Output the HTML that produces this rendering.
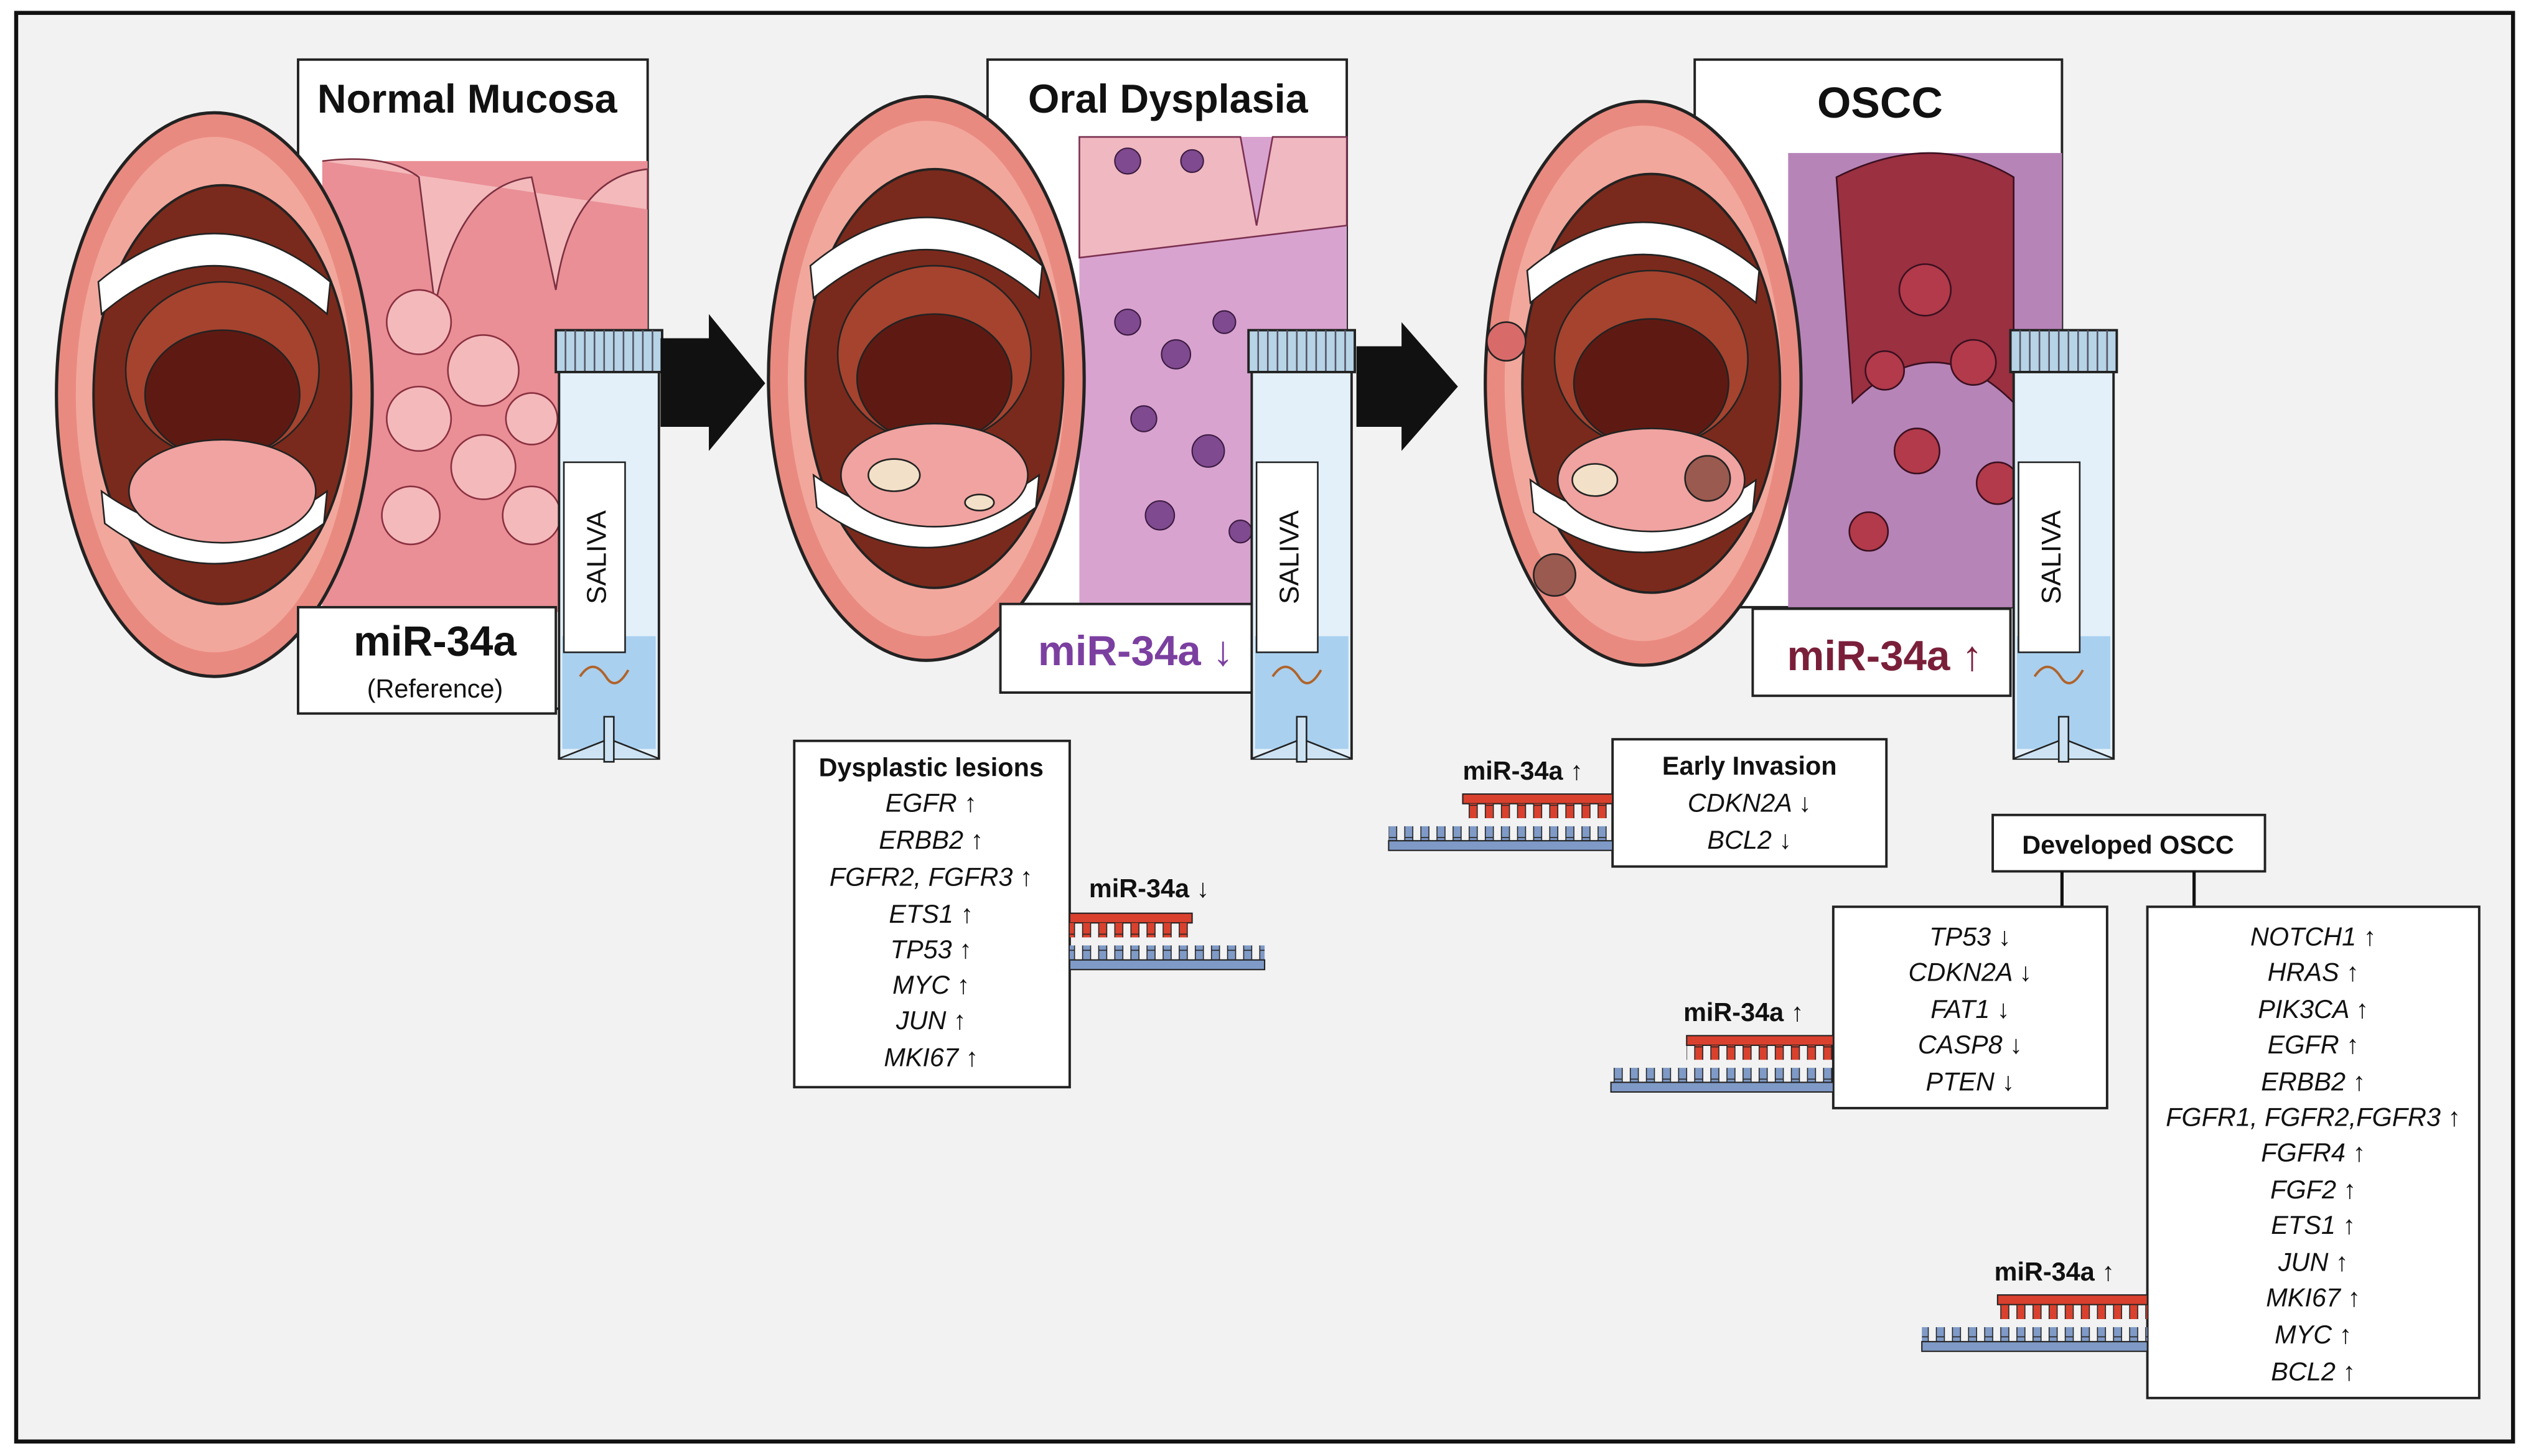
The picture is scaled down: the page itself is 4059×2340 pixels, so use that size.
<!DOCTYPE html>
<html><head><meta charset="utf-8"><style>
html,body{margin:0;padding:0;background:#fff}
svg{display:block}
text{font-family:"Liberation Sans","DejaVu Sans",sans-serif}
</style></head><body>
<svg width="4059" height="2340" viewBox="0 0 1568 904" xmlns="http://www.w3.org/2000/svg">
<defs>
<pattern id="rt" x="0" y="0" width="10" height="10" patternUnits="userSpaceOnUse"><rect x="2" y="0" width="5" height="10" fill="#d9412e" stroke="#222" stroke-width="0.6"/></pattern>
<pattern id="bt" x="0" y="0" width="10" height="10" patternUnits="userSpaceOnUse"><rect x="2" y="0" width="5" height="10" fill="#7f9ac6" stroke="#222" stroke-width="0.6"/></pattern>
<g id="mouth">
<ellipse cx="0" cy="0" rx="98" ry="175" fill="#e98a80" stroke="#222" stroke-width="2"/>
<ellipse cx="0" cy="0" rx="86" ry="160" fill="#f2a79c"/>
<ellipse cx="5" cy="0" rx="80" ry="130" fill="#7a2a1c" stroke="#222" stroke-width="1.5"/>
<path d="M-72,-70 Q0,-130 72,-70 L70,-50 Q0,-110 -70,-50 Z" fill="#fff" stroke="#222"/>
<path d="M-68,80 Q0,130 68,80 L70,60 Q0,110 -70,60 Z" fill="#fff" stroke="#222"/>
<ellipse cx="5" cy="-15" rx="60" ry="55" fill="#a5432f" stroke="#222"/>
<ellipse cx="5" cy="0" rx="48" ry="40" fill="#5e1a12" stroke="#222"/>
<ellipse cx="5" cy="60" rx="58" ry="32" fill="#f0a3a0" stroke="#222"/>
</g>
<g id="tube">
<rect x="0" y="0" width="66" height="26" fill="#b7d3e6" stroke="#222" stroke-width="1.5"/>
<path d="M6,0V26M12,0V26M18,0V26M24,0V26M30,0V26M36,0V26M42,0V26M48,0V26M54,0V26M60,0V26" stroke="#556" stroke-width="1"/>
<rect x="2" y="26" width="62" height="240" fill="#e3f0f9" stroke="#222" stroke-width="1.5"/>
<rect x="4" y="190" width="58" height="70" fill="#a9d0ef"/>
<path d="M2,266 L30,255 L36,255 L64,266" fill="#cde3f3" stroke="#222"/>
<rect x="30" y="240" width="6" height="28" fill="#cde3f3" stroke="#222"/>
<path d="M15,215 q8,-12 16,0 q6,10 14,-4" fill="none" stroke="#b0632a" stroke-width="1.5"/>
</g>
</defs>
<rect width="1568" height="904" fill="#fff"/>
<rect x="10" y="8" width="1550" height="887" fill="#f2f2f2" stroke="#111" stroke-width="2.5"/>

<!-- Panel 1 -->
<rect x="185" y="37" width="217" height="403" fill="#fff" stroke="#222" stroke-width="1.5"/>
<rect x="200" y="100" width="202" height="280" fill="#e98f95"/>
<path d="M200,100 Q240,95 260,110 L270,190 Q285,115 330,110 L345,180 Q355,110 402,105 L402,130" fill="#f4b9bb" stroke="#7a3040"/>
<g fill="#f4b9bb" stroke="#8a3040" stroke-width="1"><circle cx="260" cy="200" r="20"/><circle cx="300" cy="230" r="22"/><circle cx="260" cy="260" r="20"/><circle cx="300" cy="290" r="20"/><circle cx="330" cy="320" r="18"/><circle cx="255" cy="320" r="18"/><circle cx="330" cy="260" r="16"/></g>
<text x="290" y="70" text-anchor="middle" font-size="25" font-weight="bold" fill="#111">Normal Mucosa</text>
<use href="#mouth" x="133" y="245"/>
<rect x="185" y="377" width="160" height="66" fill="#fff" stroke="#222" stroke-width="1.5"/>
<text x="270" y="407" text-anchor="middle" font-size="26" font-weight="bold" fill="#111">miR-34a</text>
<text x="270" y="433" text-anchor="middle" font-size="16" fill="#111">(Reference)</text>
<use href="#tube" x="345" y="205"/>
<rect x="350" y="287" width="38" height="118" fill="#fff" stroke="#222"/>
<text transform="translate(376,346) rotate(-90)" text-anchor="middle" font-size="17" fill="#111">SALIVA</text>
<polygon points="410,210 440,210 440,195 475,238 440,280 440,265 410,265" fill="#111"/>

<!-- Panel 2 -->
<rect x="613" y="37" width="223" height="338" fill="#fff" stroke="#222" stroke-width="1.5"/>
<rect x="670" y="85" width="166" height="290" fill="#d9a3d0"/>
<path d="M670,85 L770,85 L780,140 L790,85 L836,85 L836,140 L670,160 Z" fill="#f0b8c0" stroke="#7a3050"/>
<g fill="#7f4a8f" stroke="#3a1a40" stroke-width="0.8"><circle cx="700" cy="200" r="8"/><circle cx="730" cy="220" r="9"/><circle cx="760" cy="200" r="7"/><circle cx="790" cy="240" r="9"/><circle cx="710" cy="260" r="8"/><circle cx="750" cy="280" r="10"/><circle cx="800" cy="300" r="8"/><circle cx="720" cy="320" r="9"/><circle cx="770" cy="330" r="7"/><circle cx="700" cy="100" r="8"/><circle cx="740" cy="100" r="7"/></g>
<text x="725" y="70" text-anchor="middle" font-size="25" font-weight="bold" fill="#111">Oral Dysplasia</text>
<use href="#mouth" x="575" y="235"/>
<ellipse cx="555" cy="295" rx="16" ry="10" fill="#f2e0c8" stroke="#222"/>
<ellipse cx="608" cy="312" rx="9" ry="5" fill="#f2e0c8" stroke="#222"/>
<rect x="621" y="375" width="157" height="55" fill="#fff" stroke="#222" stroke-width="1.5"/>
<text x="705" y="413" text-anchor="middle" font-size="26" font-weight="bold" fill="#7b3fa0">miR-34a ↓</text>
<use href="#tube" x="775" y="205"/>
<rect x="780" y="287" width="38" height="118" fill="#fff" stroke="#222"/>
<text transform="translate(806,346) rotate(-90)" text-anchor="middle" font-size="17" fill="#111">SALIVA</text>
<polygon points="842,215 870,215 870,200 905,240 870,280 870,265 842,265" fill="#111"/>

<!-- Panel 3 -->
<rect x="1052" y="37" width="228" height="340" fill="#fff" stroke="#222" stroke-width="1.5"/>
<rect x="1110" y="95" width="170" height="282" fill="#b784b8"/>
<path d="M1140,110 Q1200,80 1250,110 L1250,250 Q1200,200 1150,250 Z" fill="#9a3040" stroke="#3a1020"/>
<g fill="#b23a4a" stroke="#3a1020" stroke-width="1"><circle cx="1195" cy="180" r="16"/><circle cx="1170" cy="230" r="12"/><circle cx="1225" cy="225" r="14"/><circle cx="1190" cy="280" r="14"/><circle cx="1240" cy="300" r="13"/><circle cx="1160" cy="330" r="12"/></g>
<text x="1167" y="73" text-anchor="middle" font-size="27" font-weight="bold" fill="#111">OSCC</text>
<use href="#mouth" x="1020" y="238"/>
<ellipse cx="990" cy="298" rx="14" ry="10" fill="#f2e0c8" stroke="#222"/>
<circle cx="1060" cy="297" r="14" fill="#9a5a50" stroke="#222"/>
<circle cx="935" cy="212" r="12" fill="#d96a6a" stroke="#222"/>
<circle cx="965" cy="357" r="13" fill="#9a5a50" stroke="#222"/>
<rect x="1088" y="378" width="160" height="54" fill="#fff" stroke="#222" stroke-width="1.5"/>
<text x="1170" y="416" text-anchor="middle" font-size="26" font-weight="bold" fill="#7a1f3a">miR-34a ↑</text>
<use href="#tube" x="1248" y="205"/>
<rect x="1253" y="287" width="38" height="118" fill="#fff" stroke="#222"/>
<text transform="translate(1279,346) rotate(-90)" text-anchor="middle" font-size="17" fill="#111">SALIVA</text>

<!-- Dysplastic box -->
<rect x="493" y="460" width="171" height="215" fill="#fff" stroke="#222" stroke-width="1.5"/>
<g font-size="16" text-anchor="middle" fill="#111">
<text x="578" y="482" font-weight="bold">Dysplastic lesions</text>
<g font-style="italic">
<text x="578" y="504">EGFR ↑</text><text x="578" y="527">ERBB2 ↑</text><text x="578" y="550">FGFR2, FGFR3 ↑</text><text x="578" y="573">ETS1 ↑</text><text x="578" y="595">TP53 ↑</text><text x="578" y="617">MYC ↑</text><text x="578" y="639">JUN ↑</text><text x="578" y="662">MKI67 ↑</text></g></g>
<text x="676" y="557" font-size="16" font-weight="bold" fill="#111">miR-34a ↓</text>
<rect x="664" y="567" width="76" height="6" fill="#d9412e" stroke="#222" stroke-width="0.8"/><rect x="664" y="573" width="75" height="9" fill="url(#rt)"/>
<rect x="664" y="587" width="121" height="9" fill="url(#bt)"/><rect x="664" y="596" width="121" height="6" fill="#7f9ac6" stroke="#222" stroke-width="0.8"/>

<!-- Early invasion -->
<rect x="1001" y="459" width="170" height="79" fill="#fff" stroke="#222" stroke-width="1.5"/>
<g font-size="16" text-anchor="middle" fill="#111"><text x="1086" y="481" font-weight="bold">Early Invasion</text>
<text x="1086" y="504" font-style="italic">CDKN2A ↓</text><text x="1086" y="527" font-style="italic">BCL2 ↓</text></g>
<text x="908" y="484" font-size="16" font-weight="bold" fill="#111">miR-34a ↑</text>
<rect x="908" y="493" width="93" height="6" fill="#d9412e" stroke="#222" stroke-width="0.8"/><rect x="908" y="499" width="93" height="9" fill="url(#rt)"/>
<rect x="862" y="513" width="139" height="9" fill="url(#bt)"/><rect x="862" y="522" width="139" height="6" fill="#7f9ac6" stroke="#222" stroke-width="0.8"/>

<!-- Developed OSCC -->
<rect x="1237" y="506" width="169" height="35" fill="#fff" stroke="#222" stroke-width="1.5"/>
<text x="1321" y="530" text-anchor="middle" font-size="16" font-weight="bold" fill="#111">Developed OSCC</text>
<path d="M1280,541V563M1362,541V563" stroke="#111" stroke-width="2"/>
<rect x="1138" y="563" width="170" height="125" fill="#fff" stroke="#222" stroke-width="1.5"/>
<g font-size="16" text-anchor="middle" fill="#111" font-style="italic"><text x="1223" y="587">TP53 ↓</text><text x="1223" y="609">CDKN2A ↓</text><text x="1223" y="632">FAT1 ↓</text><text x="1223" y="654">CASP8 ↓</text><text x="1223" y="677">PTEN ↓</text></g>
<text x="1045" y="634" font-size="16" font-weight="bold" fill="#111">miR-34a ↑</text>
<rect x="1047" y="643" width="91" height="6" fill="#d9412e" stroke="#222" stroke-width="0.8"/><rect x="1047" y="649" width="91" height="9" fill="url(#rt)"/>
<rect x="1000" y="663" width="138" height="9" fill="url(#bt)"/><rect x="1000" y="672" width="138" height="6" fill="#7f9ac6" stroke="#222" stroke-width="0.8"/>

<rect x="1333" y="563" width="206" height="305" fill="#fff" stroke="#222" stroke-width="1.5"/>
<g font-size="16" text-anchor="middle" fill="#111" font-style="italic">
<text x="1436" y="587">NOTCH1 ↑</text><text x="1436" y="609">HRAS ↑</text><text x="1436" y="632">PIK3CA ↑</text><text x="1436" y="654">EGFR ↑</text><text x="1436" y="677">ERBB2 ↑</text><text x="1436" y="699">FGFR1, FGFR2,FGFR3 ↑</text><text x="1436" y="721">FGFR4 ↑</text><text x="1436" y="744">FGF2 ↑</text><text x="1436" y="766">ETS1 ↑</text><text x="1436" y="789">JUN ↑</text><text x="1436" y="811">MKI67 ↑</text><text x="1436" y="834">MYC ↑</text><text x="1436" y="857">BCL2 ↑</text></g>
<text x="1238" y="795" font-size="16" font-weight="bold" fill="#111">miR-34a ↑</text>
<rect x="1240" y="804" width="93" height="6" fill="#d9412e" stroke="#222" stroke-width="0.8"/><rect x="1240" y="810" width="93" height="9" fill="url(#rt)"/>
<rect x="1193" y="824" width="140" height="9" fill="url(#bt)"/><rect x="1193" y="833" width="140" height="6" fill="#7f9ac6" stroke="#222" stroke-width="0.8"/>
</svg>
</body></html>
